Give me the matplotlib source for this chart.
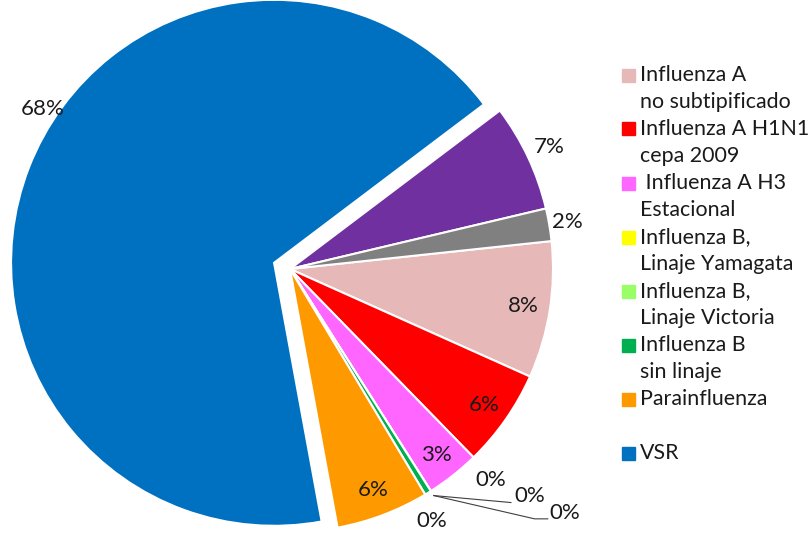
import numpy as np
import matplotlib
matplotlib.use("Agg")
from matplotlib import pyplot as plt
from matplotlib.patches import Rectangle

# datos (porcentaje de cada virus), orden de la torta en sentido horario
categorias = ["Influenza A\nno subtipificado", "Influenza A H1N1\ncepa 2009", " Influenza A H3\nEstacional",
              "Influenza B,\nLinaje Yamagata", "Influenza B,\nLinaje Victoria", "Otros",
              "Influenza B\nsin linaje", "Parainfluenza", "VSR", "Adenovirus", "Metapneumovirus"]
valores = [8.4, 6.0, 3.3, 0.0, 0.0, 0.0, 0.4, 5.7, 67.6, 6.6, 2.0]
colores = ["#E6B9B8", "#FF0000", "#FF66FF", "#FFFF00", "#99FF66", "#FFFFFF",
           "#00B050", "#FF9900", "#0070C0", "#7030A0", "#808080"]
en_leyenda = ["Influenza A\nno subtipificado", "Influenza A H1N1\ncepa 2009", " Influenza A H3\nEstacional",
              "Influenza B,\nLinaje Yamagata", "Influenza B,\nLinaje Victoria", "Influenza B\nsin linaje",
              "Parainfluenza\n", "VSR"]

W, H = 811, 535
CX, CY, R = 290, 269, 263   # centro y radio de la torta en pixeles
FUENTE = "Lato"
TAM = 16
TAM_LEY = 15.4

fig = plt.figure(figsize=(W / 100, H / 100), dpi=100)
ax = fig.add_axes([0, 0, 1, 1])

explode = [0.065 if c == "VSR" else 0 for c in categorias]
wedges, _ = ax.pie(valores, colors=colores, startangle=6.1, counterclock=False,
                   explode=explode, radius=1, center=(0, 0),
                   wedgeprops=dict(edgecolor="white", linewidth=1.5))
ax.set_xlim(-CX / R, (W - CX) / R)
ax.set_ylim(-(H - CY) / R, CY / R)
ax.set_aspect("equal")
ax.axis("off")

# etiquetas de porcentaje
radio_etiqueta = {"Adenovirus": 1.09, "Metapneumovirus": 1.07}
for w, c, v in zip(wedges, categorias, valores):
    txt = f"{v:.0f}%"
    mid = np.deg2rad((w.theta1 + w.theta2) / 2)
    if c == "VSR":
        x, y = -0.94, 0.61
    elif v < 1:
        continue
    else:
        r = radio_etiqueta.get(c, 0.9)
        x, y = r * np.cos(mid), r * np.sin(mid)
    ax.text(x, y, txt, ha="center", va="center", fontsize=TAM, family=FUENTE, color="#1a1a1a")

# etiquetas de los valores cercanos a cero (con lineas guia)
idx_cero = [i for i, v in enumerate(valores) if v < 1]
borde = np.deg2rad(wedges[idx_cero[0]].theta1)
px, py = 1.02 * np.cos(borde), 1.02 * np.sin(borde)
pos_cero = [(0.763, -0.804, None), (0.913, -0.864, [(0.84, -0.888)]),
            (1.045, -0.928, [(0.93, -0.95), (0.98, -0.95)]), (0.54, -0.958, None)]
for i, (lx, ly, guia) in zip(idx_cero, pos_cero):
    if guia:
        xs = [px] + [g[0] for g in guia]
        ys = [py] + [g[1] for g in guia]
        ax.plot(xs, ys, color="#404040", lw=0.8)
    ax.text(lx, ly, f"{valores[i]:.0f}%", ha="center", va="center",
            fontsize=TAM, family=FUENTE, color="#1a1a1a")

# leyenda (recortada como en el original)
paso = 27
y0 = 75
for k, nombre in enumerate(en_leyenda):
    col = colores[categorias.index(nombre.strip("\n"))]
    yk = y0 + 2 * k * paso
    fig.patches.append(Rectangle((622 / W, 1 - (yk + 6.5) / H), 13 / W, 13 / H,
                                 transform=fig.transFigure, color=col))
    for j, linea in enumerate(nombre.split("\n")):
        fig.text(640 / W, 1 - (yk + j * paso) / H, linea, ha="left", va="center",
                 fontsize=TAM_LEY, family=FUENTE, color="#1a1a1a")

plt.savefig("out.png", dpi=100)
